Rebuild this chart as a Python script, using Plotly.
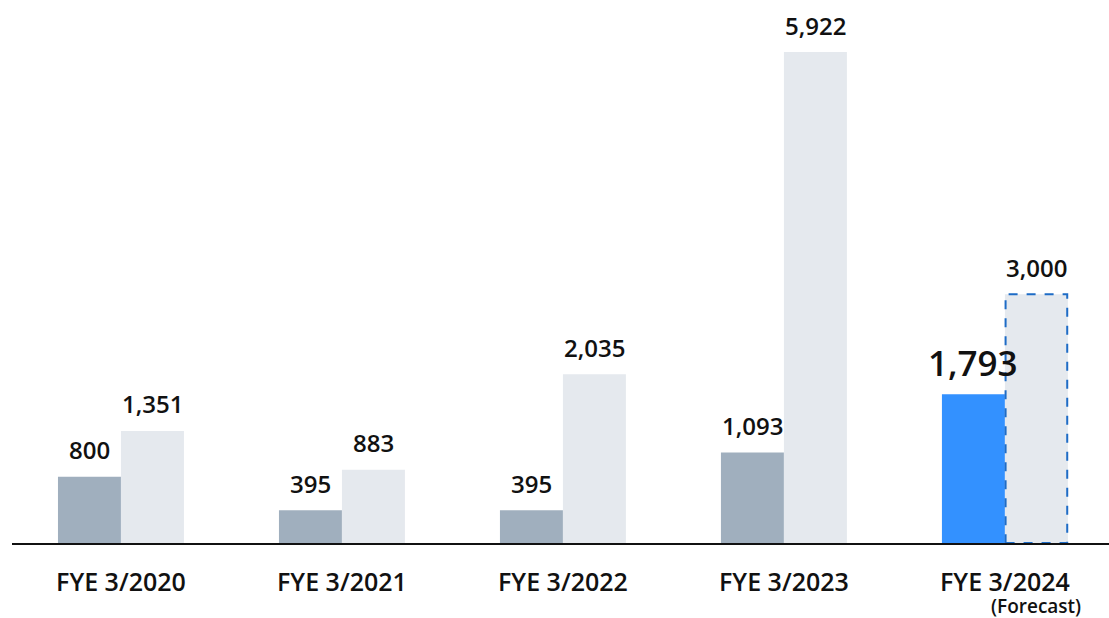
import plotly.graph_objects as go

categories = ["FYE 3/2020", "FYE 3/2021", "FYE 3/2022", "FYE 3/2023", "FYE 3/2024"]
series_a = [800, 395, 395, 1093, 1793]
series_b = [1351, 883, 2035, 5922, 3000]
forecast_note = "(Forecast)"

BW = 0.285
idx = list(range(len(categories)))
col_a = ["#A0AFBE"] * 4 + ["#3391FF"]
col_b = "#E5E9EE"
FONT = "Open Sans"

fig = go.Figure()
fig.add_bar(x=idx, y=series_a, width=BW, offset=-BW, marker=dict(color=col_a, line=dict(width=0)),
            hoverinfo="skip")
fig.add_bar(x=idx, y=series_b, width=BW, offset=0, marker=dict(color=col_b, line=dict(width=0)),
            hoverinfo="skip")

# dashed outline on forecast bar
last = idx[-1]
fig.add_shape(type="rect", x0=last + 0.003, x1=last + BW - 0.003, y0=0, y1=series_b[-1], xref="x", yref="y",
              line=dict(color="#1E6CC6", width=2, dash="dash"), fillcolor="rgba(0,0,0,0)", layer="above")

for i in idx:
    big = (i == last)
    fig.add_annotation(x=i - BW / 2, y=series_a[i], text=f"{series_a[i]:,}", showarrow=False,
                       yanchor="middle", yshift=32 if big else 27,
                       font=dict(family=FONT, size=35 if big else 24, color="#111", weight=600))
    fig.add_annotation(x=i + BW / 2, y=series_b[i], text=f"{series_b[i]:,}", showarrow=False,
                       yanchor="middle", yshift=27,
                       font=dict(family=FONT, size=24, color="#111", weight=600))

fig.add_annotation(x=last + BW / 2, y=0, text=forecast_note, showarrow=False, yanchor="middle", yshift=-63,
                   borderpad=0, font=dict(family=FONT, size=19, color="#111", weight=600))

fig.update_layout(
    width=1109, height=618, margin=dict(l=12, r=0, t=10, b=75),
    plot_bgcolor="white", paper_bgcolor="white", showlegend=False,
    xaxis=dict(range=[-0.493, 4.471], tickvals=idx, ticktext=categories, showgrid=False, zeroline=False,
               showline=True, linecolor="#111", linewidth=2, ticks="", ticklabelstandoff=16,
               tickfont=dict(family=FONT, size=25, color="#111", weight=600)),
    yaxis=dict(range=[0, 6429], visible=False, showgrid=False, zeroline=False),
)
fig.write_html("out.html", config={"displayModeBar": False},
               post_script="document.body.style.margin='0';document.body.style.padding='0';")
